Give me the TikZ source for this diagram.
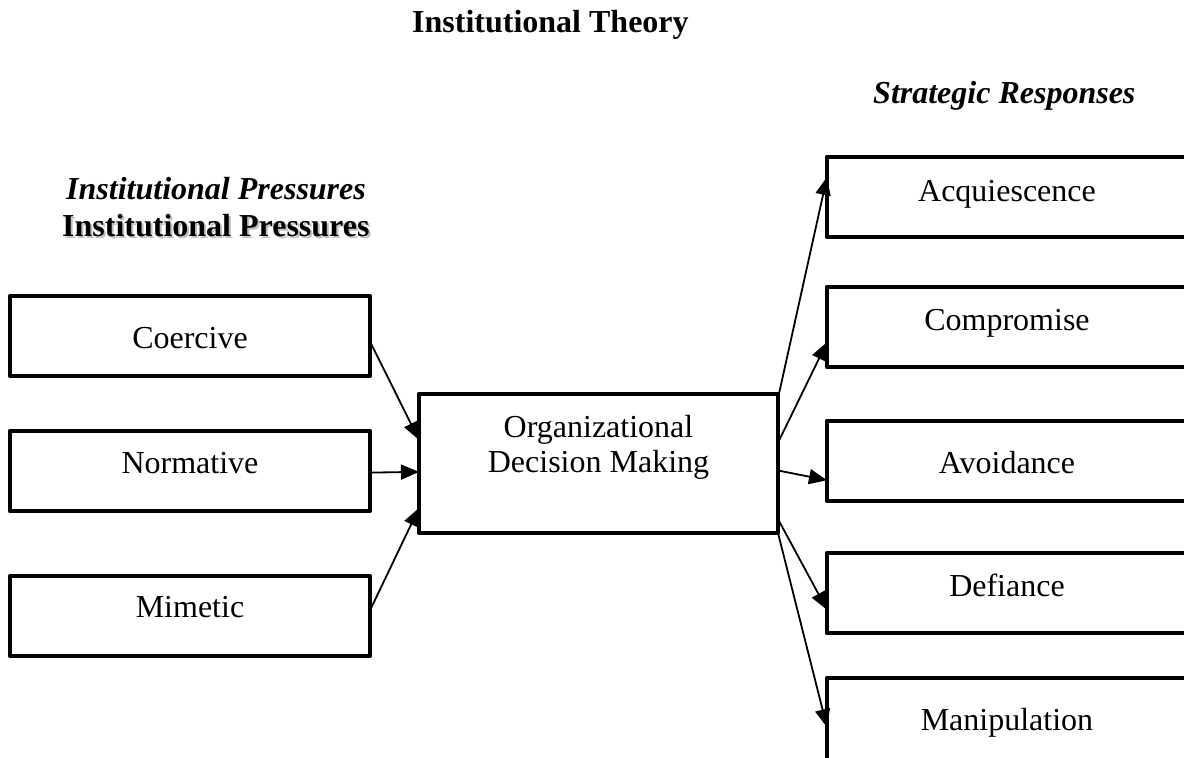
\documentclass[tikz,border=0pt]{standalone}
\usepackage{fontspec}
\setmainfont{Liberation Serif}
\usetikzlibrary{arrows.meta,calc}

\tikzset{
  stagebox/.style 2 args={draw, line width=4.5pt, line join=round, inner sep=0pt,
    outer sep=0pt, minimum width=360pt, anchor=north west,
    text height=#1pt, text depth=#2pt,
    font=\fontsize{32}{35}\selectfont},
  heading/.style={anchor=base west, inner sep=0pt,
    font=\fontsize{32}{35}\selectfont\bfseries},
  flow/.style={line width=1.8pt, -{Triangle[length=18pt,width=15pt]}},
}

\begin{document}
\begin{tikzpicture}[x=1pt,y=-1pt]
\path[use as bounding box, clip] (0,0) rectangle (1184,758);

% headings
\node[heading] (theory) at (412,32) {Institutional Theory};
\node[heading, font=\fontsize{32}{35}\selectfont\bfseries\itshape] (resp) at (873,103) {Strategic Responses};
\node[heading, font=\fontsize{32}{35}\selectfont\bfseries\itshape] (pressit) at (66,199) {Institutional Pressures};
\node[heading, text=black!25] (pressshadow) at (64,238) {Institutional Pressures};
\node[heading] (press) at (62,236) {Institutional Pressures};

% institutional pressures
\node[stagebox={52}{28}] (coer) at (10,296) {Coercive};
\node[stagebox={42}{38}] (norm) at (10,431) {Normative};
\node[stagebox={41}{39}] (mime) at (10,576) {Mimetic};

% decision making (text height measured to the last baseline)
\node[stagebox={78}{61}, minimum width=359pt, align=center] (org) at (419,394)
  {Organizational\\Decision Making};

% strategic responses
\node[stagebox={44}{36}] (acq) at (827,157) {Acquiescence};
\node[stagebox={43}{37}] (comp) at (827,287) {Compromise};
\node[stagebox={52}{28}] (avoid) at (827,421) {Avoidance};
\node[stagebox={43}{37}] (defy) at (827,553) {Defiance};
\node[stagebox={52}{30}] (manip) at (827,678) {Manipulation};

% pressures into the decision
\draw[flow] ($(coer.north east)!0.57!(coer.south east)$) -- ($(org.north west)!0.33!(org.south west)$);
\draw[flow] ($(norm.north east)!0.52!(norm.south east)$) -- ($(org.north west)!0.56!(org.south west)$);
\draw[flow] ($(mime.north east)!0.43!(mime.south east)$) -- ($(org.north west)!0.82!(org.south west)$);

% decision out to the responses
\draw[flow] ($(org.north east)!0.03!(org.south east)$) -- ($(acq.north west)!0.25!(acq.south west)$);
\draw[flow] ($(org.north east)!0.35!(org.south east)$) -- ($(comp.north west)!0.69!(comp.south west)$);
\draw[flow] ($(org.north east)!0.55!(org.south east)$) -- ($(avoid.north west)!0.74!(avoid.south west)$);
\draw[flow] ($(org.north east)!0.9!(org.south east)$) -- ($(defy.north west)!0.71!(defy.south west)$);
\draw[flow] (org.south east) -- ($(manip.north west)!0.6!(manip.south west)$);
\end{tikzpicture}
\end{document}
